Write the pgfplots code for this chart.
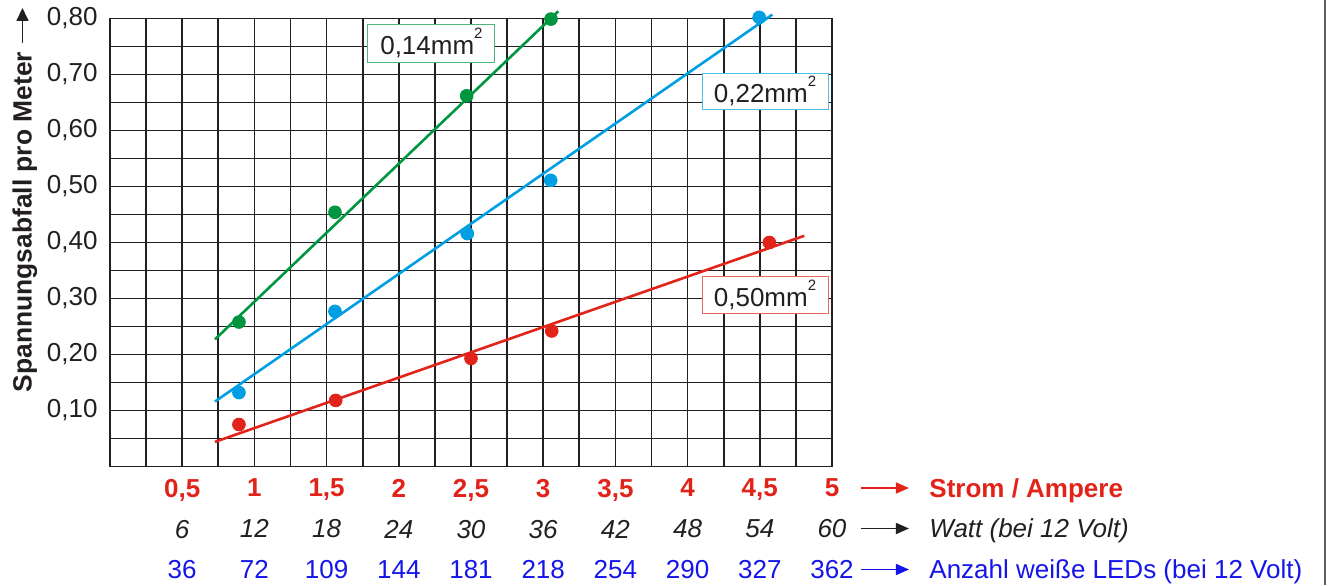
\documentclass[border=0pt]{standalone}
\usepackage{fontspec}
\setmainfont{Liberation Sans}
\usepackage{pgfplots}
\pgfplotsset{compat=1.18}
\usetikzlibrary{arrows.meta}

\definecolor{dgreen}{HTML}{00963F}
\definecolor{cblue}{HTML}{009FE3}
\definecolor{cred}{HTML}{E2231A}
\definecolor{ledblue}{HTML}{1414EB}
\definecolor{ink}{HTML}{231F20}

\newcommand{\sq}{\raisebox{1.15ex}{\fontsize{7.5}{8}\selectfont 2}}

\begin{document}
\begin{tikzpicture}
\begin{axis}[
    scale only axis,
    width=361pt, height=224pt,
    xmin=0, xmax=5, ymin=0, ymax=0.8,
    clip=false,
    axis line style={ink, line width=0.85pt},
    grid=both,
    major grid style={ink, line width=0.85pt},
    minor grid style={ink, line width=0.85pt},
    major tick length=0pt, minor tick length=0pt,
    xtick={0.5,1,1.5,2,2.5,3,3.5,4,4.5,5},
    minor xtick={0,0.25,...,5},
    ytick={0.1,0.2,0.3,0.4,0.5,0.6,0.7,0.8},
    minor ytick={0.05,0.15,0.25,0.35,0.45,0.55,0.65,0.75},
    yticklabels={{0,10},{0,20},{0,30},{0,40},{0,50},{0,60},{0,70},{0,80}},
    yticklabel style={font=\fontsize{13}{15}\selectfont, text=ink, inner sep=0pt, xshift=-6pt},
    xticklabels={
      {\textcolor{cred}{\textbf{0,5}}\\\textit{6}\\\textcolor{ledblue}{36}},
      {\textcolor{cred}{\textbf{1}}\\\textit{12}\\\textcolor{ledblue}{72}},
      {\textcolor{cred}{\textbf{1,5}}\\\textit{18}\\\textcolor{ledblue}{109}},
      {\textcolor{cred}{\textbf{2}}\\\textit{24}\\\textcolor{ledblue}{144}},
      {\textcolor{cred}{\textbf{2,5}}\\\textit{30}\\\textcolor{ledblue}{181}},
      {\textcolor{cred}{\textbf{3}}\\\textit{36}\\\textcolor{ledblue}{218}},
      {\textcolor{cred}{\textbf{3,5}}\\\textit{42}\\\textcolor{ledblue}{254}},
      {\textcolor{cred}{\textbf{4}}\\\textit{48}\\\textcolor{ledblue}{290}},
      {\textcolor{cred}{\textbf{4,5}}\\\textit{54}\\\textcolor{ledblue}{327}},
      {\textcolor{cred}{\textbf{5}}\\\textit{60}\\\textcolor{ledblue}{362}}},
    xticklabel style={align=center, font=\fontsize{13}{20.4}\selectfont, text=ink,
      inner sep=0pt, anchor=north, yshift=-6.1pt},
]
% fitted lines
\addplot[dgreen, line width=1.3pt] coordinates {(0.727,0.227) (3.105,0.813)};
\addplot[cblue, line width=1.3pt] coordinates {(0.727,0.116) (4.587,0.807)};
\addplot[cred, line width=1.3pt] coordinates {(0.727,0.044) (4.808,0.412)};

% measured points
\addplot[only marks, mark=*, mark size=3.2pt, dgreen] coordinates {
  (0.893,0.258) (1.558,0.454) (2.470,0.662) (3.054,0.799)};
\addplot[only marks, mark=*, mark size=3.2pt, cblue] coordinates {
  (0.893,0.132) (1.558,0.277) (2.474,0.416) (3.052,0.511) (4.496,0.802)};
\addplot[only marks, mark=*, mark size=3.2pt, cred] coordinates {
  (0.893,0.075) (1.563,0.118) (2.500,0.193) (3.059,0.242) (4.566,0.400)};

% cross-section labels
\node[draw=dgreen!70!white, fill=white, line width=0.5pt, minimum width=63.5pt,
  minimum height=19pt, inner sep=0pt, text=ink, font=\fontsize{13}{15}\selectfont]
  at (axis cs:2.226,0.756) {0,14mm\sq};
\node[draw=cblue!70!white, fill=white, line width=0.5pt, minimum width=63pt,
  minimum height=18pt, inner sep=0pt, text=ink, font=\fontsize{13}{15}\selectfont]
  at (axis cs:4.536,0.6705) {0,22mm\sq};
\node[draw=cred!70!white, fill=white, line width=0.5pt, minimum width=63pt,
  minimum height=18.5pt, inner sep=0pt, text=ink, font=\fontsize{13}{15}\selectfont]
  at (axis cs:4.536,0.307) {0,50mm\sq};

% axis titles
\node[rotate=90, anchor=base, inner sep=0pt, text=ink,
  font=\bfseries\fontsize{13.2}{15}\selectfont] at (axis cs:-0.542,0.4366)
  {Spannungsabfall pro Meter};
\draw[ink, line width=0.8pt, -{Triangle[length=6.5pt,width=6pt]}]
  (axis cs:-0.606,0.7563) -- (axis cs:-0.606,0.8188);

\draw[cred, line width=0.8pt, -{Triangle[length=6.5pt,width=5.5pt]}]
  (axis cs:5.201,-0.0384) -- (axis cs:5.533,-0.0384);
\draw[ink, line width=0.8pt, -{Triangle[length=6.5pt,width=5.5pt]}]
  (axis cs:5.201,-0.1107) -- (axis cs:5.533,-0.1107);
\draw[ledblue, line width=0.8pt, -{Triangle[length=6.5pt,width=5.5pt]}]
  (axis cs:5.201,-0.1839) -- (axis cs:5.533,-0.1839);

\node[anchor=base west, inner sep=0pt, text=cred, font=\bfseries\fontsize{13}{15}\selectfont]
  at (axis cs:5.672,-0.055) {Strom / Ampere};
\node[anchor=base west, inner sep=0pt, text=ink, font=\itshape\fontsize{13}{15}\selectfont]
  at (axis cs:5.672,-0.1273) {Watt (bei 12 Volt)};
\node[anchor=base west, inner sep=0pt, text=ledblue, font=\fontsize{13}{15}\selectfont]
  at (axis cs:5.672,-0.2005) {Anzahl weiße LEDs (bei 12 Volt)};
\end{axis}
\draw[gray!75!black, line width=1pt] (607.5pt,-59.25pt) -- (607.5pt,233.25pt);
\pgfresetboundingbox
\path (-55pt,-59.25pt) rectangle (609.5pt,233.25pt);
\end{tikzpicture}
\end{document}
